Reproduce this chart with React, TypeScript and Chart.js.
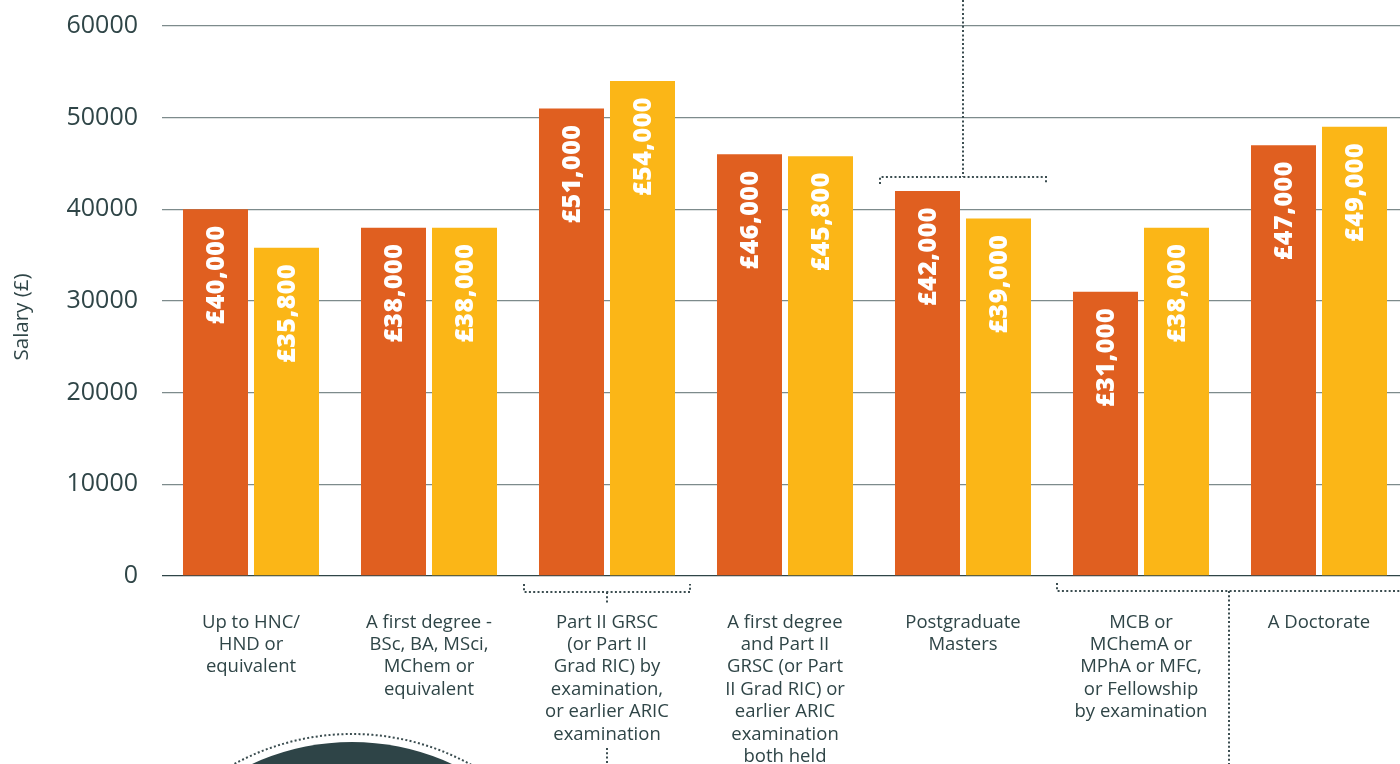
import React, { useEffect, useRef } from "react";
import { Chart, registerables } from "chart.js";

Chart.register(...registerables);

const categories: string[][] = [
  ["Up to HNC/", "HND or", "equivalent"],
  ["A first degree -", "BSc, BA, MSci,", "MChem or", "equivalent"],
  ["Part II GRSC", "(or Part II", "Grad RIC) by", "examination,", "or earlier ARIC", "examination"],
  ["A first degree", "and Part II", "GRSC (or Part", "II Grad RIC) or", "earlier ARIC", "examination", "both held"],
  ["Postgraduate", "Masters"],
  ["MCB or", "MChemA or", "MPhA or MFC,", "or Fellowship", "by examination"],
  ["A Doctorate"],
];

const seriesOrange: number[] = [40000, 38000, 51000, 46000, 42000, 31000, 47000];
const seriesYellow: number[] = [35800, 38000, 54000, 45800, 39000, 38000, 49000];

const yMin = 0;
const yMax = 60000;
const yStep = 10000;
const yTitle = "Salary (£)";

const ORANGE = "#E05F20";
const YELLOW = "#FBB617";
const INK = "#2F4547";
const GRID = "#7D8B8C";
const FONT = '"Open Sans", "DejaVu Sans", sans-serif';

const valueLabels = {
  id: "valueLabels",
  afterDatasetsDraw(chart: any) {
    const ctx = chart.ctx;
    chart.data.datasets.forEach((ds: any, i: number) => {
      const meta = chart.getDatasetMeta(i);
      meta.data.forEach((bar: any, j: number) => {
        const v = ds.data[j] as number;
        const text = "£" + v.toLocaleString("en-GB");
        ctx.save();
        ctx.translate(bar.x + 1, bar.y + 16);
        ctx.rotate(-Math.PI / 2);
        ctx.font = `800 25px ${FONT}`;
        try {
          (ctx as any).letterSpacing = "0.5px";
        } catch (e) {}
        ctx.fillStyle = "#FFFFFF";
        ctx.textAlign = "right";
        ctx.textBaseline = "middle";
        ctx.fillText(text, 0, 0);
        ctx.restore();
      });
    });
  },
};

const decorations = {
  id: "decorations",
  afterDraw(chart: any) {
    const ctx = chart.ctx;
    const xs = chart.scales.x;
    const area = chart.chartArea;
    const catW = (area.right - area.left) / categories.length;
    const bottom = area.bottom;
    const H = chart.height;
    const W = chart.width;

    const line = (pts: number[][]) => {
      ctx.beginPath();
      ctx.moveTo(pts[0][0], pts[0][1]);
      for (let k = 1; k < pts.length; k++) ctx.lineTo(pts[k][0], pts[k][1]);
      ctx.stroke();
    };

    ctx.save();
    ctx.strokeStyle = "#3B4D50";
    ctx.lineWidth = 2;
    ctx.setLineDash([2, 2.3]);

    // Postgraduate bracket (index 4)
    const c4 = xs.getPixelForValue(4);
    const yb4 = 177;
    line([[c4, 0], [c4, yb4]]);
    line([[c4 - 83, yb4 + 7], [c4 - 83, yb4], [c4 + 83, yb4], [c4 + 83, yb4 + 7]]);

    // Part II bracket (index 2)
    const c2 = xs.getPixelForValue(2);
    const yb2 = bottom + 16;
    line([[c2 - 83, yb2 - 8], [c2 - 83, yb2], [c2 + 83, yb2], [c2 + 83, yb2 - 8]]);
    line([[c2, yb2], [c2, yb2 + 13]]);
    line([[c2, 748], [c2, H]]);

    // MCB bracket (index 5)
    const c5 = xs.getPixelForValue(5);
    const yb5 = bottom + 15;
    line([[c5 - 84, yb5 - 8], [c5 - 84, yb5], [W, yb5]]);
    line([[c5 + catW / 2 - 1, yb5], [c5 + catW / 2 - 1, H]]);

    // circle decoration
    ctx.setLineDash([]);
    ctx.fillStyle = "#2E4447";
    ctx.beginPath();
    ctx.arc(352, 980, 238, 0, Math.PI * 2);
    ctx.fill();
    ctx.setLineDash([2, 2.3]);
    ctx.beginPath();
    ctx.arc(352, 980, 246, 0, Math.PI * 2);
    ctx.stroke();
    ctx.restore();
  },
};

export default function App() {
  const canvasRef = useRef<HTMLCanvasElement | null>(null);

  useEffect(() => {
    if (!canvasRef.current) return;
    const chart = new Chart(canvasRef.current, {
      type: "bar",
      data: {
        labels: categories,
        datasets: [
          {
            label: "Salary (orange)",
            data: seriesOrange,
            backgroundColor: ORANGE,
            borderWidth: 0,
            barPercentage: 0.9155,
            categoryPercentage: 0.7978,
          },
          {
            label: "Salary (yellow)",
            data: seriesYellow,
            backgroundColor: YELLOW,
            borderWidth: 0,
            barPercentage: 0.9155,
            categoryPercentage: 0.7978,
          },
        ],
      },
      options: {
        animation: false,
        responsive: true,
        maintainAspectRatio: false,
        layout: { padding: { top: 26, right: 12, bottom: 0, left: 0 } },
        plugins: {
          legend: { display: false },
          tooltip: { enabled: false },
        },
        scales: {
          x: {
            grid: { display: false, drawTicks: false },
            border: { display: false },
            ticks: {
              color: INK,
              font: { family: FONT, size: 18.5, lineHeight: 1.215 },
              padding: 35,
              maxRotation: 0,
              autoSkip: false,
            },
            afterFit(scale: any) {
              scale.height = 188;
              scale.paddingTop = 0;
            },
          },
          y: {
            min: yMin,
            max: yMax,
            border: { display: false },
            grid: {
              drawTicks: false,
              color: (c: any) => (c.tick && c.tick.value === 0 ? INK : GRID),
              lineWidth: 1.3,
            },
            ticks: {
              stepSize: yStep,
              color: INK,
              font: { family: FONT, size: 25 },
              padding: 24,
              callback: (v: any) => String(v),
            },
            title: {
              display: true,
              text: yTitle + "      ",
              color: INK,
              font: { family: FONT, size: 20.5 },
              padding: { top: 10, bottom: 0 },
            },
            afterFit(scale: any) {
              scale.width = 162;
              scale.paddingTop = 0;
              scale.paddingBottom = 0;
            },
          },
        },
      },
      plugins: [valueLabels, decorations],
    });
    return () => chart.destroy();
  }, []);

  return (
    <div
      style={{
        position: "fixed",
        left: 0,
        top: 0,
        width: 1400,
        height: 764,
        overflow: "hidden",
        background: "#FFFFFF",
      }}
    >
      <div style={{ position: "relative", width: 1420, height: 764 }}>
        <canvas ref={canvasRef} />
      </div>
    </div>
  );
}
